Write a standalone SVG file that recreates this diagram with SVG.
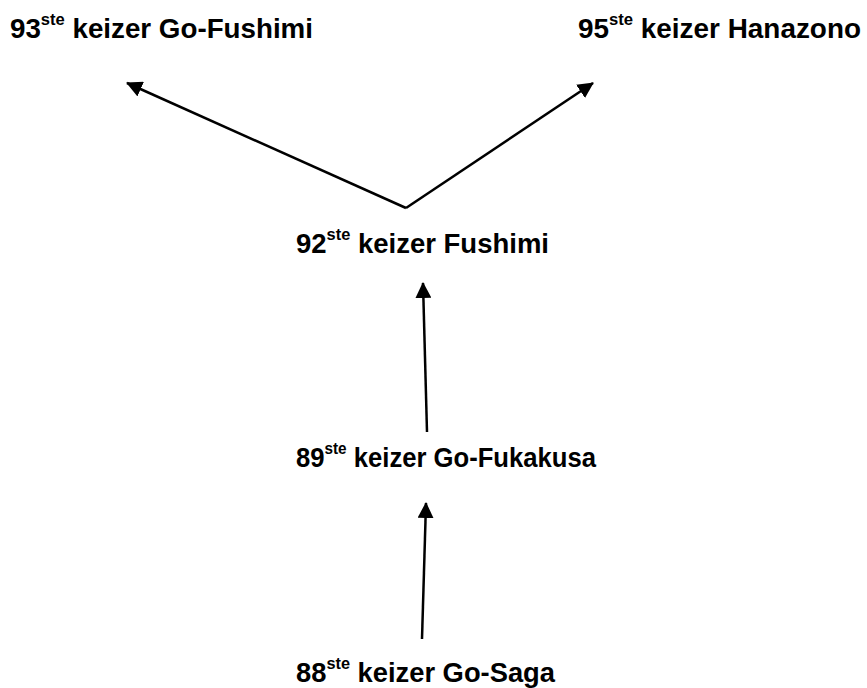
<svg xmlns="http://www.w3.org/2000/svg" width="867" height="688" viewBox="0 0 867 688">
<defs>
<style>
.t{font-family:"Liberation Sans",Arial,sans-serif;font-weight:bold;font-size:28.5px;fill:#000}
.s{font-size:17px}
.c{stroke:#000;stroke-width:2.5;fill:none}
</style>
<marker id="ah" markerUnits="userSpaceOnUse" markerWidth="16" markerHeight="16" viewBox="0 0 16 16" refX="15" refY="8" orient="auto">
<path d="M0,0 L16,8 L0,16 Z" fill="#000"/>
</marker>
</defs>
<rect width="867" height="688" fill="#fff"/>
<g id="connectors">
<path class="c" d="M406,208 L127,83" marker-end="url(#ah)"/>
<path class="c" d="M406,208 L593,83" marker-end="url(#ah)"/>
<path class="c" d="M427,432 L423,283" marker-end="url(#ah)"/>
<path class="c" d="M422,639 L426,503" marker-end="url(#ah)"/>
</g>
<g id="n93"><text class="t" x="10" y="38" textLength="303" lengthAdjust="spacingAndGlyphs">93<tspan class="s" dy="-13">ste</tspan><tspan dy="13"> keizer Go-Fushimi</tspan></text></g>
<g id="n95"><text class="t" x="578" y="38" textLength="283" lengthAdjust="spacingAndGlyphs">95<tspan class="s" dy="-13">ste</tspan><tspan dy="13"> keizer Hanazono</tspan></text></g>
<g id="n92"><text class="t" x="296" y="253" textLength="253" lengthAdjust="spacingAndGlyphs">92<tspan class="s" dy="-13">ste</tspan><tspan dy="13"> keizer Fushimi</tspan></text></g>
<g id="n89"><text class="t" x="296" y="467" textLength="300" lengthAdjust="spacingAndGlyphs">89<tspan class="s" dy="-13">ste</tspan><tspan dy="13"> keizer Go-Fukakusa</tspan></text></g>
<g id="n88"><text class="t" x="296" y="682" textLength="259" lengthAdjust="spacingAndGlyphs">88<tspan class="s" dy="-13">ste</tspan><tspan dy="13"> keizer Go-Saga</tspan></text></g>
</svg>
